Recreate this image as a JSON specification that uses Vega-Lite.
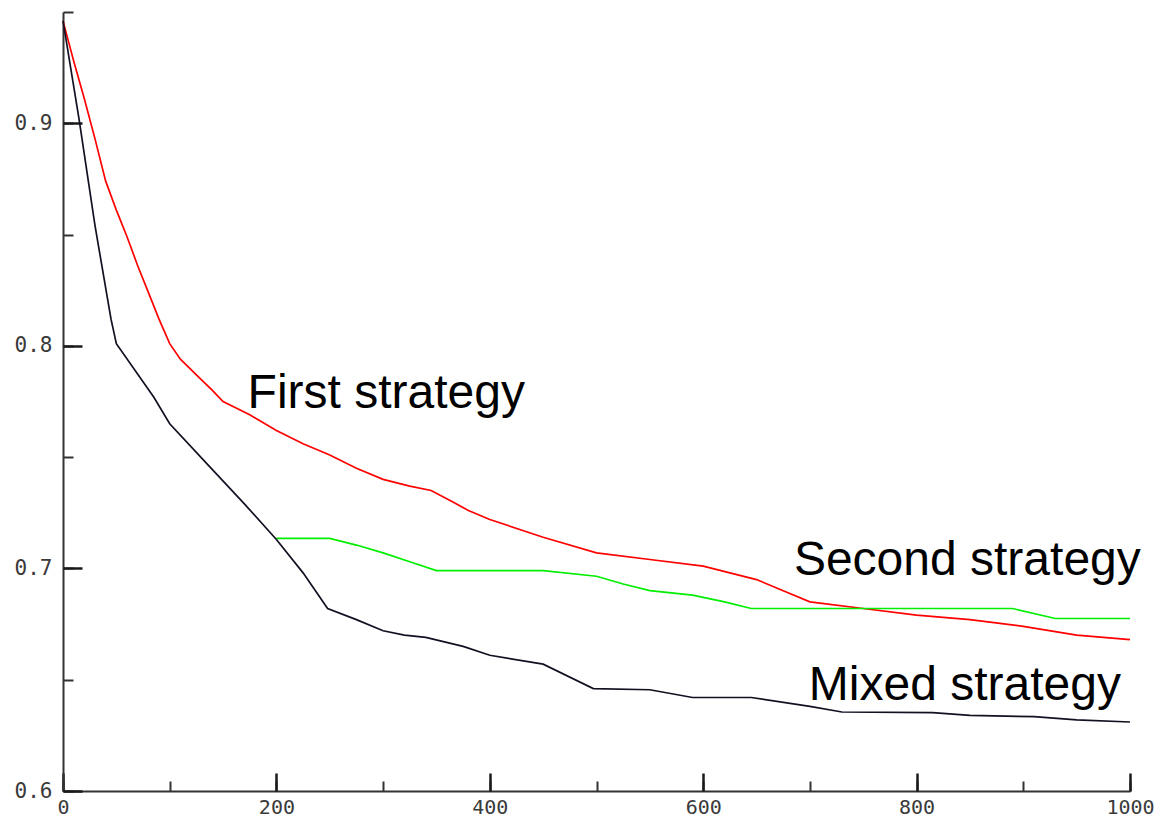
{
  "$schema": "https://vega.github.io/schema/vega-lite/v6.json",
  "width": 1067,
  "height": 779,
  "autosize": {"type": "none"},
  "padding": {"left": 63, "top": 12, "right": 36, "bottom": 30},
  "background": "white",
  "config": {"view": {"stroke": null}},
  "datasets": {
    "curves": [
      {"iter": 0, "error": 0.946, "series": "First strategy"},
      {"iter": 10, "error": 0.928, "series": "First strategy"},
      {"iter": 20, "error": 0.911, "series": "First strategy"},
      {"iter": 30, "error": 0.893, "series": "First strategy"},
      {"iter": 40, "error": 0.874, "series": "First strategy"},
      {"iter": 50, "error": 0.861, "series": "First strategy"},
      {"iter": 60, "error": 0.849, "series": "First strategy"},
      {"iter": 70, "error": 0.836, "series": "First strategy"},
      {"iter": 80, "error": 0.824, "series": "First strategy"},
      {"iter": 90, "error": 0.812, "series": "First strategy"},
      {"iter": 100, "error": 0.801, "series": "First strategy"},
      {"iter": 110, "error": 0.794, "series": "First strategy"},
      {"iter": 125, "error": 0.787, "series": "First strategy"},
      {"iter": 140, "error": 0.780, "series": "First strategy"},
      {"iter": 150, "error": 0.775, "series": "First strategy"},
      {"iter": 175, "error": 0.769, "series": "First strategy"},
      {"iter": 200, "error": 0.762, "series": "First strategy"},
      {"iter": 225, "error": 0.756, "series": "First strategy"},
      {"iter": 250, "error": 0.751, "series": "First strategy"},
      {"iter": 275, "error": 0.745, "series": "First strategy"},
      {"iter": 300, "error": 0.740, "series": "First strategy"},
      {"iter": 325, "error": 0.737, "series": "First strategy"},
      {"iter": 345, "error": 0.735, "series": "First strategy"},
      {"iter": 365, "error": 0.730, "series": "First strategy"},
      {"iter": 380, "error": 0.726, "series": "First strategy"},
      {"iter": 400, "error": 0.722, "series": "First strategy"},
      {"iter": 450, "error": 0.714, "series": "First strategy"},
      {"iter": 500, "error": 0.707, "series": "First strategy"},
      {"iter": 550, "error": 0.704, "series": "First strategy"},
      {"iter": 600, "error": 0.701, "series": "First strategy"},
      {"iter": 625, "error": 0.698, "series": "First strategy"},
      {"iter": 650, "error": 0.695, "series": "First strategy"},
      {"iter": 675, "error": 0.690, "series": "First strategy"},
      {"iter": 700, "error": 0.685, "series": "First strategy"},
      {"iter": 750, "error": 0.682, "series": "First strategy"},
      {"iter": 800, "error": 0.679, "series": "First strategy"},
      {"iter": 850, "error": 0.677, "series": "First strategy"},
      {"iter": 900, "error": 0.674, "series": "First strategy"},
      {"iter": 950, "error": 0.670, "series": "First strategy"},
      {"iter": 1000, "error": 0.668, "series": "First strategy"},

      {"iter": 200, "error": 0.7135, "series": "Second strategy"},
      {"iter": 250, "error": 0.7135, "series": "Second strategy"},
      {"iter": 275, "error": 0.7105, "series": "Second strategy"},
      {"iter": 300, "error": 0.707, "series": "Second strategy"},
      {"iter": 325, "error": 0.703, "series": "Second strategy"},
      {"iter": 350, "error": 0.699, "series": "Second strategy"},
      {"iter": 450, "error": 0.699, "series": "Second strategy"},
      {"iter": 500, "error": 0.6965, "series": "Second strategy"},
      {"iter": 525, "error": 0.693, "series": "Second strategy"},
      {"iter": 550, "error": 0.690, "series": "Second strategy"},
      {"iter": 590, "error": 0.688, "series": "Second strategy"},
      {"iter": 620, "error": 0.685, "series": "Second strategy"},
      {"iter": 645, "error": 0.682, "series": "Second strategy"},
      {"iter": 890, "error": 0.682, "series": "Second strategy"},
      {"iter": 930, "error": 0.6775, "series": "Second strategy"},
      {"iter": 1000, "error": 0.6775, "series": "Second strategy"},

      {"iter": 0, "error": 0.946, "series": "Mixed strategy"},
      {"iter": 15, "error": 0.902, "series": "Mixed strategy"},
      {"iter": 30, "error": 0.854, "series": "Mixed strategy"},
      {"iter": 45, "error": 0.812, "series": "Mixed strategy"},
      {"iter": 50, "error": 0.801, "series": "Mixed strategy"},
      {"iter": 85, "error": 0.777, "series": "Mixed strategy"},
      {"iter": 100, "error": 0.765, "series": "Mixed strategy"},
      {"iter": 135, "error": 0.747, "series": "Mixed strategy"},
      {"iter": 170, "error": 0.729, "series": "Mixed strategy"},
      {"iter": 200, "error": 0.713, "series": "Mixed strategy"},
      {"iter": 225, "error": 0.698, "series": "Mixed strategy"},
      {"iter": 248, "error": 0.682, "series": "Mixed strategy"},
      {"iter": 275, "error": 0.677, "series": "Mixed strategy"},
      {"iter": 300, "error": 0.672, "series": "Mixed strategy"},
      {"iter": 320, "error": 0.670, "series": "Mixed strategy"},
      {"iter": 340, "error": 0.669, "series": "Mixed strategy"},
      {"iter": 375, "error": 0.665, "series": "Mixed strategy"},
      {"iter": 400, "error": 0.661, "series": "Mixed strategy"},
      {"iter": 450, "error": 0.657, "series": "Mixed strategy"},
      {"iter": 497, "error": 0.646, "series": "Mixed strategy"},
      {"iter": 550, "error": 0.6455, "series": "Mixed strategy"},
      {"iter": 590, "error": 0.642, "series": "Mixed strategy"},
      {"iter": 645, "error": 0.642, "series": "Mixed strategy"},
      {"iter": 700, "error": 0.638, "series": "Mixed strategy"},
      {"iter": 730, "error": 0.6355, "series": "Mixed strategy"},
      {"iter": 815, "error": 0.6352, "series": "Mixed strategy"},
      {"iter": 850, "error": 0.634, "series": "Mixed strategy"},
      {"iter": 910, "error": 0.6334, "series": "Mixed strategy"},
      {"iter": 950, "error": 0.632, "series": "Mixed strategy"},
      {"iter": 1000, "error": 0.631, "series": "Mixed strategy"}
    ],
    "notes": [
      {"iter": 173, "error": 0.772, "text": "First strategy"},
      {"iter": 685, "error": 0.697, "text": "Second strategy"},
      {"iter": 699, "error": 0.641, "text": "Mixed strategy"}
    ]
  },
  "resolve": {"axis": {"x": "independent", "y": "independent"}},
  "layer": [
    {
      "data": {"name": "curves"},
      "mark": {"type": "line", "strokeWidth": 1.7},
      "encoding": {
        "x": {
          "field": "iter", "type": "quantitative",
          "scale": {"domain": [0, 1000], "nice": false},
          "axis": {
            "orient": "bottom", "title": null, "grid": false,
            "values": [0, 100, 200, 300, 400, 500, 600, 700, 800, 900, 1000],
            "labelExpr": "datum.value % 200 === 0 ? format(datum.value, 'd') : ''",
            "tickSize": -10, "tickColor": "#333333", "tickWidth": 2,
            "domainColor": "#333333", "domainWidth": 2,
            "labelFont": "DejaVu Sans Mono", "labelFontSize": 20, "labelColor": "#3a3a3a",
            "labelPadding": 16, "labelFlush": false
          }
        },
        "y": {
          "field": "error", "type": "quantitative",
          "scale": {"domain": [0.6, 0.95], "nice": false, "zero": false},
          "axis": {
            "orient": "left", "title": null, "grid": false,
            "values": [0.6, 0.65, 0.7, 0.75, 0.8, 0.85, 0.9, 0.95],
            "labelExpr": "abs(datum.value*10 - round(datum.value*10)) < 0.001 ? format(datum.value, '.1f') : ''",
            "tickSize": -10, "tickColor": "#333333", "tickWidth": 2,
            "domainColor": "#333333", "domainWidth": 2,
            "labelFont": "DejaVu Sans Mono", "labelFontSize": 21, "labelColor": "#3a3a3a",
            "labelPadding": 21, "labelFlush": false
          }
        },
        "color": {
          "field": "series", "type": "nominal", "legend": null,
          "scale": {"domain": ["First strategy", "Second strategy", "Mixed strategy"], "range": ["#ff0000", "#00ee00", "#111122"]}
        }
      }
    },
    {
      "data": {"name": "notes"},
      "mark": {"type": "text", "align": "left", "baseline": "alphabetic", "font": "Liberation Sans", "fontSize": 48, "color": "#000000"},
      "encoding": {
        "x": {
          "field": "iter", "type": "quantitative",
          "scale": {"domain": [0, 1000], "nice": false},
          "axis": {
            "orient": "bottom", "title": null, "grid": false,
            "values": [0, 200, 400, 600, 800, 1000],
            "labels": false, "domain": false,
            "tickSize": -18, "tickColor": "#1a1a1a", "tickWidth": 2.5
          }
        },
        "y": {
          "field": "error", "type": "quantitative",
          "scale": {"domain": [0.6, 0.95], "nice": false, "zero": false},
          "axis": {
            "orient": "left", "title": null, "grid": false,
            "values": [0.6, 0.7, 0.8, 0.9],
            "labels": false, "domain": false,
            "tickSize": -19, "tickColor": "#1a1a1a", "tickWidth": 2.5
          }
        },
        "text": {"field": "text"}
      }
    }
  ]
}
